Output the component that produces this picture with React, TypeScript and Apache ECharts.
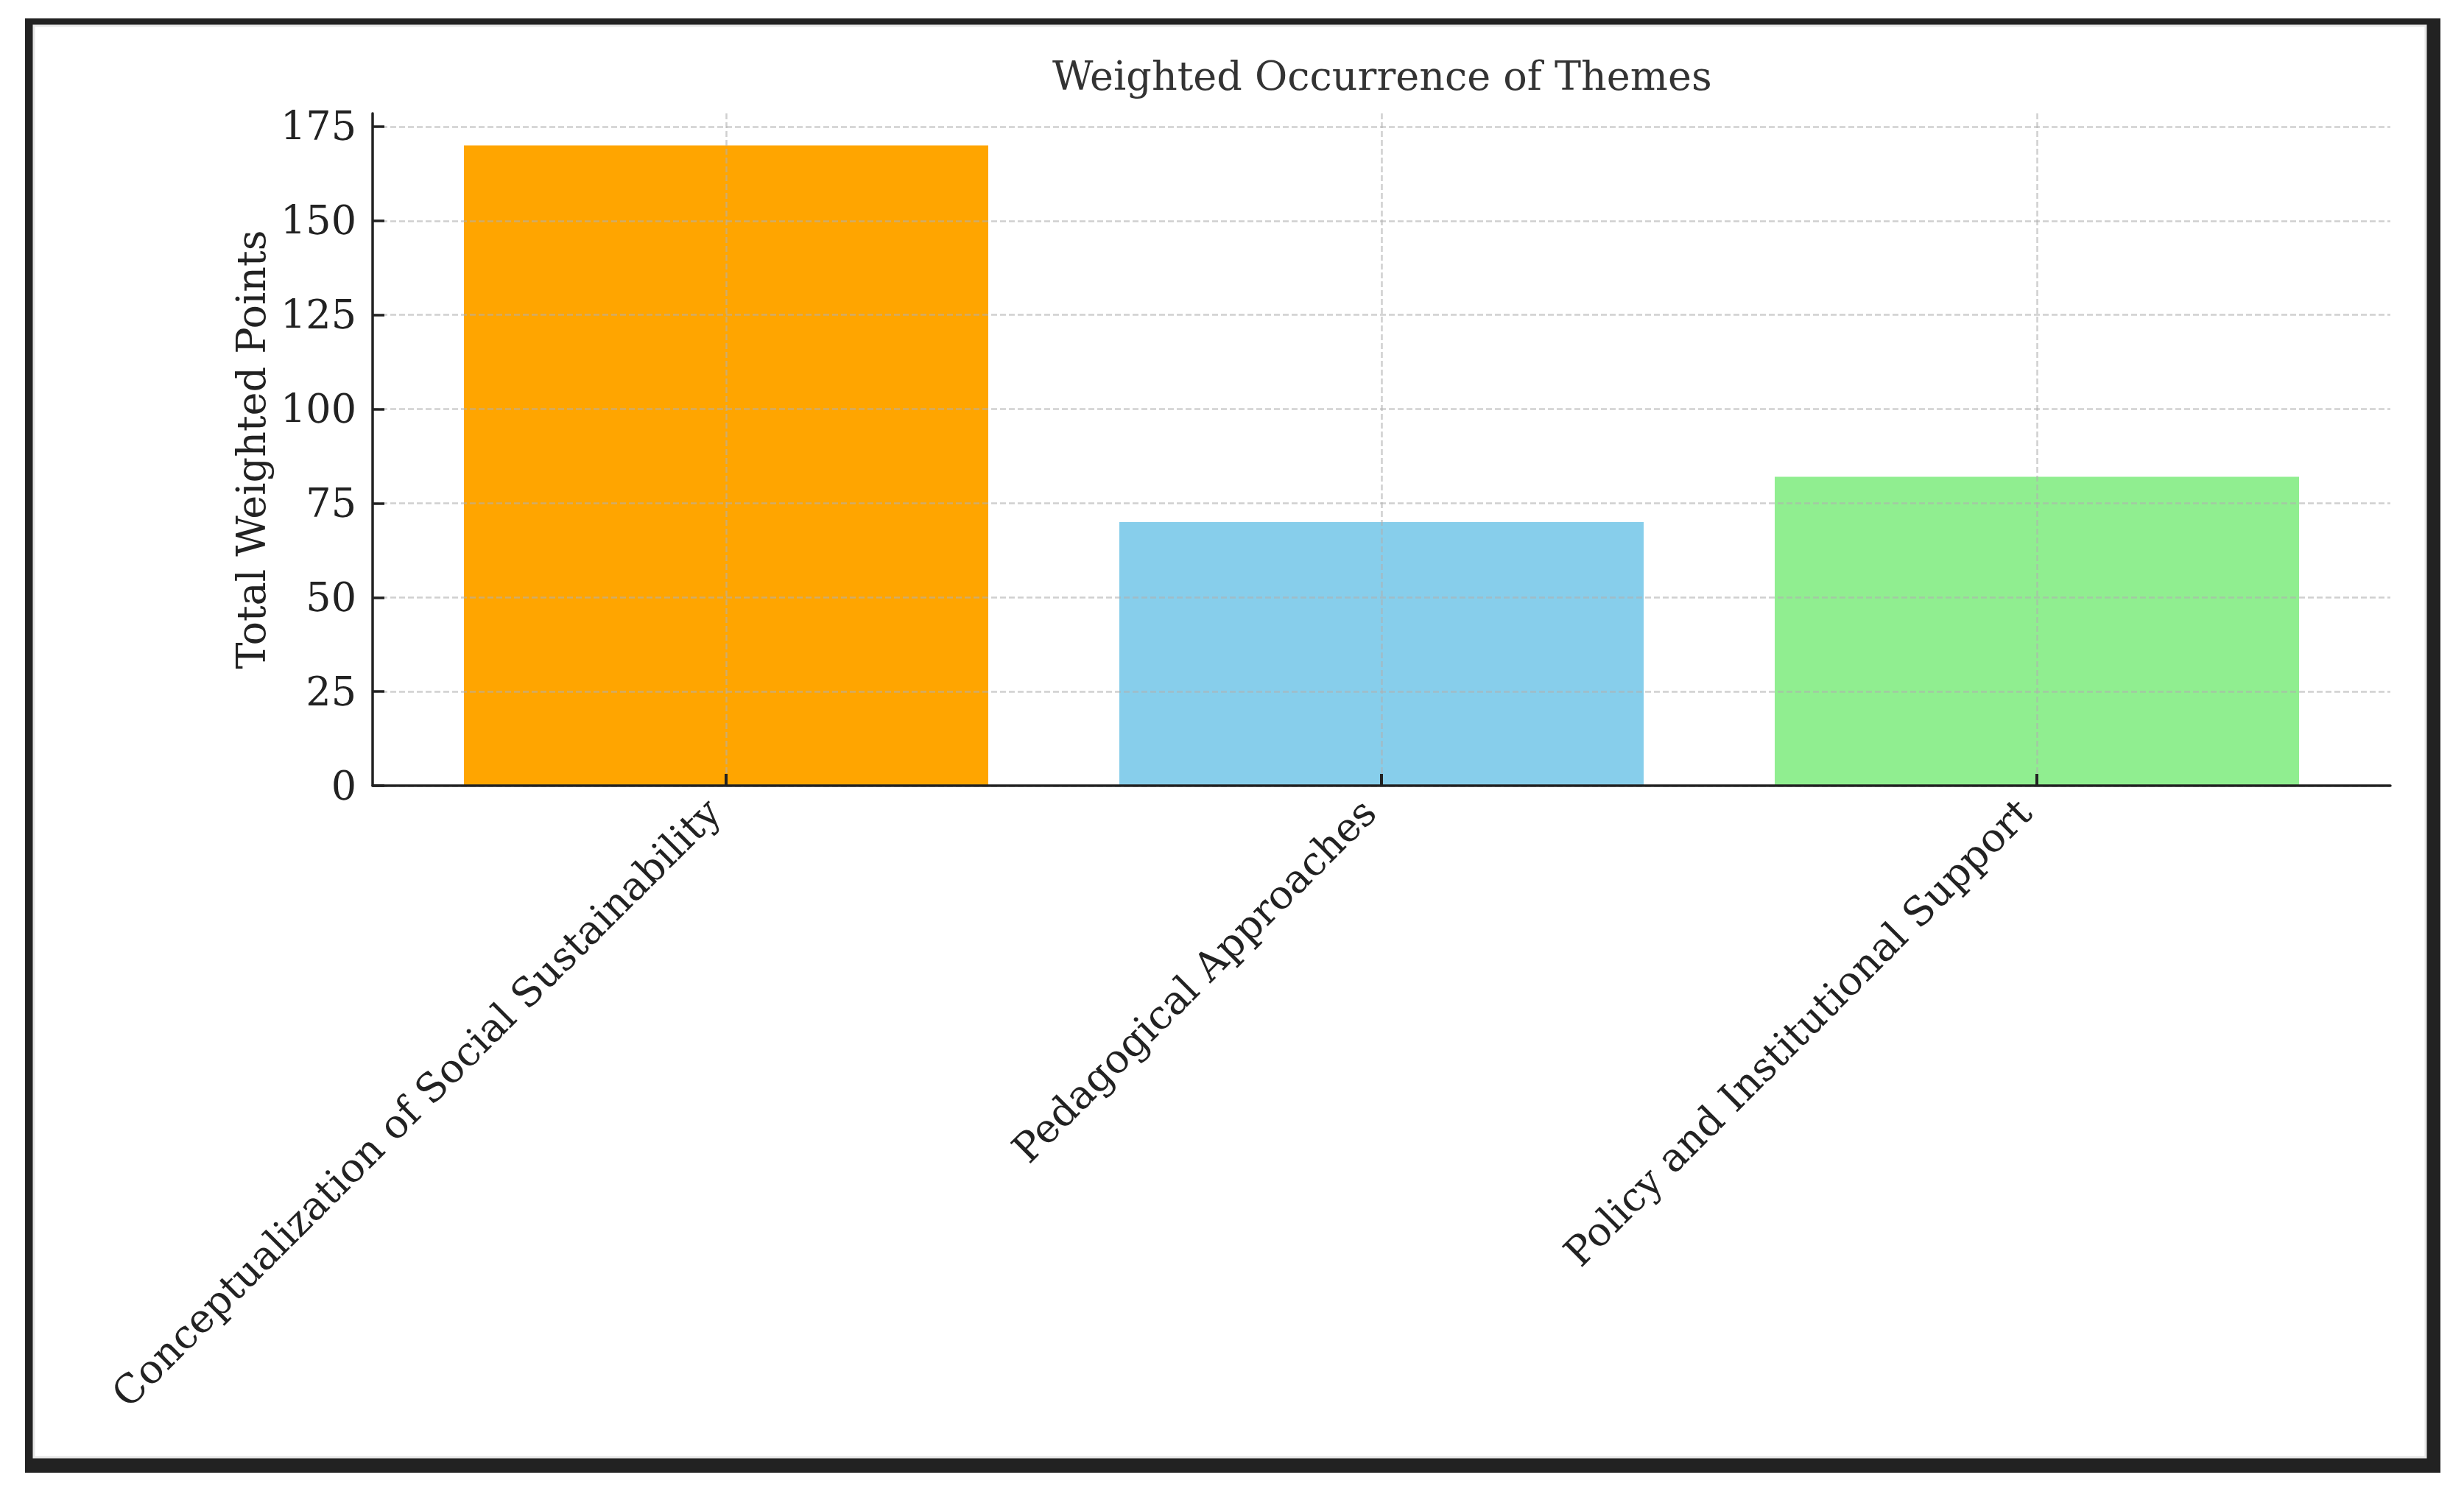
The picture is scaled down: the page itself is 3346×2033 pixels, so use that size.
import React, { useEffect, useRef } from "react";
import * as echarts from "echarts";

const categories = [
  "Conceptualization of Social Sustainability",
  "Pedagogical Approaches",
  "Policy and Institutional Support",
];
const values = [170, 70, 82];
const barColors = ["#FFA500", "#87CEEB", "#90EE90"];
const yTicks = [0, 25, 50, 75, 100, 125, 150, 175];
const yMin = 0;
const yMax = 178.5;
const xMin = -0.54;
const xMax = 2.54;

const FONT = "'DejaVu Serif', serif";
const TEXT = "#222";
const FS = 54;
const GRID_LINE = { color: "rgba(176,176,176,0.6)", width: 2.5, type: [8, 4] as any };

export default function App() {
  const ref = useRef<HTMLDivElement>(null);
  useEffect(() => {
    if (!ref.current) return;
    const chart = echarts.init(ref.current, undefined, { renderer: "svg" });
    const option: any = {
      animation: false,
      backgroundColor: "#ffffff",
      title: {
        text: "Weighted Occurrence of Themes",
        left: 1424,
        top: 71,
        textStyle: { fontFamily: FONT, fontSize: FS, fontWeight: "normal", color: "#333" },
      },
      graphic: [
        {
          type: "rect",
          z: -10,
          silent: true,
          shape: { x: 34, y: 25, width: 3280, height: 1975 },
          style: { fill: "#222" },
        },
        {
          type: "rect",
          z: -9,
          silent: true,
          shape: { x: 46, y: 35, width: 3248, height: 1944 },
          style: { fill: "#fff", stroke: "#e6e6e6", lineWidth: 3 },
        },
      ],
      grid: [
        { left: 506, right: 100, top: 154, bottom: 966 },
        { left: 986, right: 580, top: 154, bottom: 966 },
      ],
      xAxis: [
        {
          gridIndex: 0,
          type: "value",
          min: xMin,
          max: xMax,
          z: 6,
          axisLine: { show: true, onZero: false, lineStyle: { color: TEXT, width: 3.5 } },
          axisTick: { show: false },
          axisLabel: { show: false },
          splitLine: { show: false },
        },
        {
          gridIndex: 1,
          type: "category",
          data: categories,
          boundaryGap: false,
          z: 5,
          axisLine: { show: false, onZero: false },
          axisTick: { show: true, inside: true, length: 16, lineStyle: { color: TEXT, width: 4 } },
          axisLabel: {
            rotate: 45,
            margin: 10,
            padding: [0, 24, 0, 0],
            fontFamily: FONT,
            fontSize: FS,
            color: TEXT,
            interval: 0,
          },
          splitLine: { show: true, lineStyle: GRID_LINE },
        },
      ],
      yAxis: [
        {
          gridIndex: 0,
          type: "value",
          min: yMin,
          max: yMax,
          interval: 25,
          z: 5,
          name: "Total Weighted Points",
          nameLocation: "middle",
          nameGap: 138,
          nameTextStyle: { fontFamily: FONT, fontSize: FS, color: TEXT },
          axisLine: { show: true, onZero: false, lineStyle: { color: TEXT, width: 3.5 } },
          axisTick: {
            show: true,
            inside: true,
            length: 16,
            lineStyle: { color: TEXT, width: 3.5 },
            customValues: yTicks,
          },
          axisLabel: {
            margin: 22,
            fontFamily: FONT,
            fontSize: FS,
            color: TEXT,
            customValues: yTicks,
          },
          splitLine: { show: true, lineStyle: GRID_LINE },
        },
        {
          gridIndex: 1,
          type: "value",
          min: yMin,
          max: yMax,
          show: false,
          axisLine: { show: false, onZero: false },
          axisTick: { show: false },
          axisLabel: { show: false },
          splitLine: { show: false },
        },
      ],
      series: [
        {
          type: "bar",
          xAxisIndex: 1,
          yAxisIndex: 1,
          barWidth: "80%",
          clip: false,
          silent: true,
          z: 2,
          data: values.map((v, i) => ({ value: v, itemStyle: { color: barColors[i] } })),
        },
      ],
    };
    chart.setOption(option);
    return () => chart.dispose();
  }, []);
  return (
    <div
      ref={ref}
      style={{ position: "fixed", left: 0, top: 0, width: 3346, height: 2033, background: "#fff" }}
    />
  );
}
